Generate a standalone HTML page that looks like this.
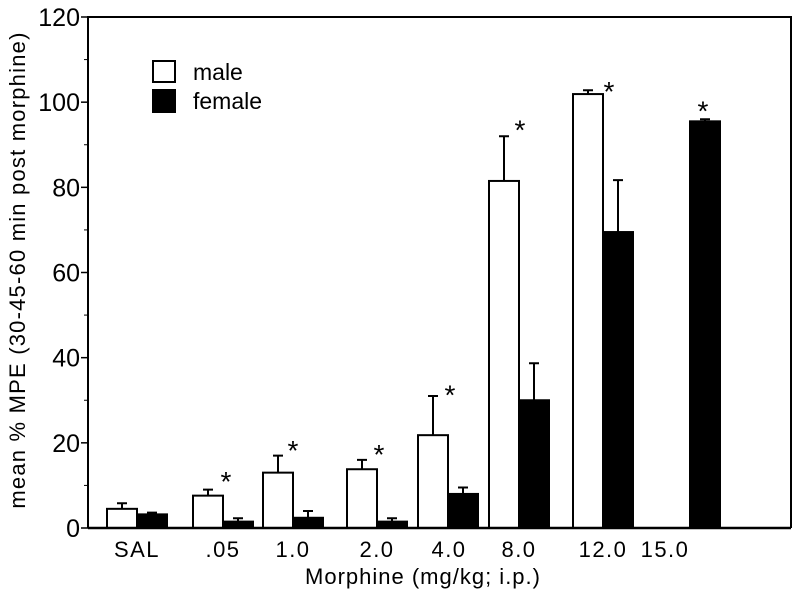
<!DOCTYPE html>
<html><head><meta charset="utf-8"><style>
html,body{margin:0;padding:0;background:#fff;}
svg{display:block;font-family:"Liberation Sans",sans-serif;}
</style></head><body>
<svg id="chart" width="800" height="598" viewBox="0 0 800 598"></svg>
<script>
const categories = ["SAL", ".05", "1.0", "2.0", "4.0", "8.0", "12.0", "15.0"];
const maleValues = [4.5, 7.6, 13.0, 13.8, 21.8, 81.5, 101.9, null];
const maleErrTop = [5.8, 9.0, 17.0, 16.0, 31.0, 92.0, 102.8, null];
const femaleValues = [3.2, 1.5, 2.4, 1.5, 8.0, 30.0, 69.5, 95.5];
const femaleErrTop = [3.6, 2.3, 4.0, 2.3, 9.5, 38.7, 81.7, 96.0];
const asteriskValues = [null, 12.4, 19.7, 18.8, 32.8, 95.0, 104.0, 99.5];
const yTicks = [0, 20, 40, 60, 80, 100, 120];
// layout (pixel positions of group centers, not data)
const groupCenterX = [137, 223, 293, 377, 448, 519, 603, 690];
const labelCenterX = [137, 223, 293, 377, 449, 519, 603, 665];
const asteriskOffsetX = [0, 3, 0, 2, 2, 1, 6, 13];

const svg = document.getElementById('chart');
const NS = 'http://www.w3.org/2000/svg';
const X0 = 88, X1 = 791, Y0 = 528, Y1 = 17;
const y = v => Y0 - (v / 120) * (Y0 - Y1);
const BW = 30;
function mk(tag, attrs, parent) {
  const e = document.createElementNS(NS, tag);
  for (const k in attrs) e.setAttribute(k, attrs[k]);
  (parent || svg).appendChild(e);
  return e;
}
let f = mk('path', {d: `M${X0},${Y0} V${Y1} H${X1} V${Y0}`, fill: 'none', stroke: '#000', 'stroke-width': 2});


yTicks.forEach(t => {
  const tk = mk('line', {x1: X0 - 7, x2: X0, y1: y(t), y2: y(t), stroke: '#000', 'stroke-width': 1.5});
  
  
  const lb = mk('text', {x: X0 - 8, y: y(t) + 9, 'text-anchor': 'end', 'font-size': 25});
  lb.textContent = t;
  
  
  if (t < 120) {
    const mt = mk('line', {x1: X0 - 4, x2: X0, y1: y(t + 10), y2: y(t + 10), stroke: '#000', 'stroke-width': 1});
    
    
  }
});
function bar(cx, v, err, fill, name) {
  if (v === null) return;
  const r = mk('rect', {x: cx, y: y(v), width: BW, height: Y0 - y(v), fill: fill, stroke: '#000', 'stroke-width': 2});
  
  
  const m = cx + BW / 2;
  const e = mk('path', {d: `M${m},${y(v)} V${y(err)} M${m - 5},${y(err)} H${m + 5}`, stroke: '#000', 'stroke-width': 2, fill: 'none'});
  
  
}
categories.forEach((c, i) => {
  const gc = groupCenterX[i];
  bar(gc - BW, maleValues[i], maleErrTop[i], '#fff', 'bar-male-' + i);
  bar(gc, femaleValues[i], femaleErrTop[i], '#000', 'bar-female-' + i);
  if (asteriskValues[i] !== null) {
    const a = mk('text', {x: gc + asteriskOffsetX[i], y: y(asteriskValues[i]) + 16, 'text-anchor': 'middle', 'font-size': 28});
    a.textContent = '*';
    
    
  }
  const l = mk('text', {x: labelCenterX[i], y: 557, 'text-anchor': 'middle', 'font-size': 22, 'letter-spacing': 1.5});
  l.textContent = c;
  
  
});
let ba = mk('line', {x1: X0, x2: X1, y1: Y0, y2: Y0, stroke: '#000', 'stroke-width': 2.5});


let lg = mk('g', {});


let b1 = mk('rect', {x: 153, y: 61, width: 22, height: 21, fill: '#fff', stroke: '#000', 'stroke-width': 2}, lg);


let t1 = mk('text', {x: 193, y: 80, 'font-size': 23}, lg);
t1.textContent = 'male';


let b2 = mk('rect', {x: 153, y: 90, width: 22, height: 22, fill: '#000', stroke: '#000', 'stroke-width': 2}, lg);


let t2 = mk('text', {x: 193, y: 109, 'font-size': 23}, lg);
t2.textContent = 'female';


let xt = mk('text', {x: 423, y: 584, 'text-anchor': 'middle', 'font-size': 22, 'letter-spacing': 1});
xt.textContent = 'Morphine (mg/kg; i.p.)';


let yt = mk('text', {x: 0, y: 0, 'text-anchor': 'middle', 'font-size': 22, 'letter-spacing': 1.2, transform: 'translate(25,270) rotate(-90)'});
yt.textContent = 'mean % MPE (30-45-60 min post morphine)';


</script>
</body></html>
